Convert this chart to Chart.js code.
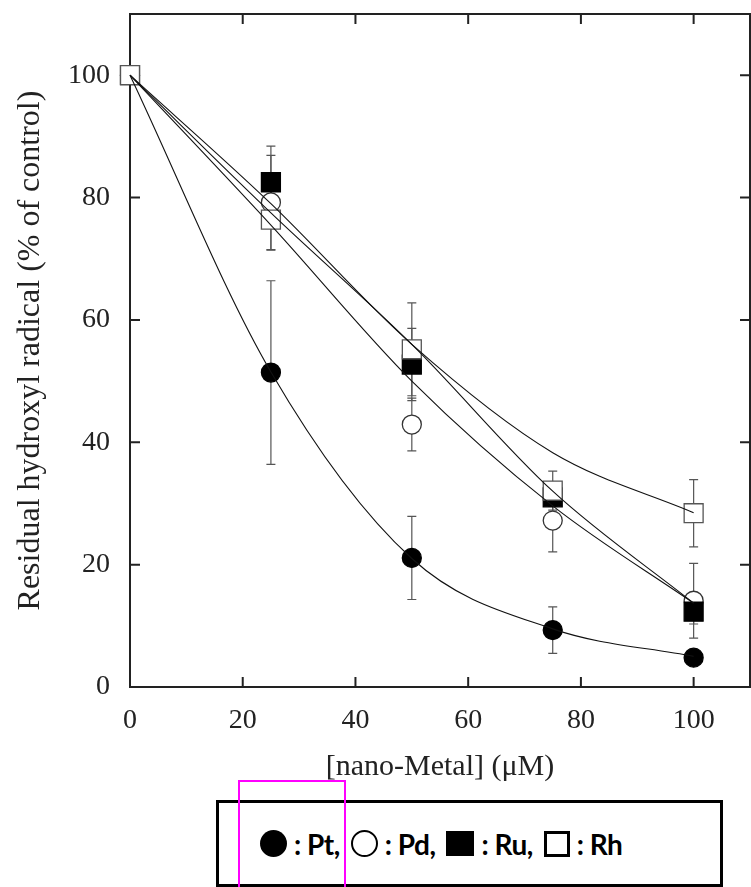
<!DOCTYPE html>
<html>
<head>
<meta charset="utf-8">
<title>Residual hydroxyl radical vs nano-Metal</title>
<script src="https://cdn.jsdelivr.net/npm/chart.js@4.4.0/dist/chart.umd.min.js"></script>
<style>
    html, body { margin: 0; padding: 0; background: #fff; overflow: hidden; }
    #wrap { position: relative; width: 751px; height: 887px; }
    #chart { position: absolute; left: 0; top: 0; }

    /* legend box under the plot */
    #legend {
        position: absolute; left: 216px; top: 800px;
        width: 507px; height: 87px;
        border: 3px solid #000; background: #fff;
        display: flex; align-items: center;
        padding-left: 41px; box-sizing: border-box;
        font-family: Lato, "Noto Sans", sans-serif; font-weight: 700;
        font-size: 28px; color: #000;
    }
    #legend .sym { display: inline-block; box-sizing: border-box; flex: none; }
    #legend .dot { width: 27px; height: 27px; border-radius: 50%; background: #000; }
    #legend .ring { width: 27px; height: 27px; border-radius: 50%; border: 2.5px solid #000; }
    #legend .box { width: 28px; height: 25px; background: #000; }
    #legend .hollow { width: 26px; height: 26px; border: 3px solid #000; }
    #legend .lbl { margin-left: 7px; margin-right: 11px; white-space: pre; letter-spacing: -0.5px; }
    #legend .lbl:last-child { margin-right: 0; }

    #frame {
        position: absolute; left: 238px; top: 780px;
        width: 108px; height: 140px;
        border: 2.5px solid #ff00ff; box-sizing: border-box;
    }
</style>
</head>
<body>
<div id="wrap">
    <canvas id="chart" width="751" height="887"></canvas>
    <div id="legend">
        <span class="sym dot"></span><span class="lbl">: Pt,</span>
        <span class="sym ring"></span><span class="lbl">: Pd,</span>
        <span class="sym box"></span><span class="lbl">: Ru,</span>
        <span class="sym hollow"></span><span class="lbl">: Rh</span>
    </div>
    <div id="frame"></div>
</div>
<script>
// --- DATA ---
const concentrations = [0, 25, 50, 75, 100];   // µM

const ptMean = [100, 51.4, 21.1, 9.3, 4.8];
const ptErr  = [0, 15.0, 6.8, 3.8, 1.0];
const pdMean = [100, 79.2, 42.9, 27.2, 14.1];
const pdErr  = [0, 7.7, 4.3, 5.1, 6.1];
const ruMean = [100, 82.5, 52.7, 31.0, 12.3];
const ruErr  = [0, 5.9, 5.9, 1.5, 2.0];
const rhMean = [100, 76.4, 55.2, 32.1, 28.4];
const rhErr  = [0, 5.0, 7.6, 3.2, 5.5];

// fitted curves as drawn in the figure, read at the same concentrations
const ptFit = [100, 51.5, 21.0, 9.5, 5.0];
const pdFit = [100, 75.5, 50.0, 29.6, 13.7];
const ruFit = [100, 77.5, 56.0, 32.0, 13.7];
const rhFit = [100, 79.0, 56.0, 38.3, 28.5];

const xTicks = [0, 20, 40, 60, 80, 100];
const yTicks = [0, 20, 40, 60, 80, 100];

const SERIF = "'Times New Roman', 'Liberation Serif', serif";
const AXIS_COLOR = '#222';
const toPoints = (ys) => concentrations.map((c, i) => ({ x: c, y: ys[i] }));

const errorSeries = [
    { mean: ptMean, err: ptErr },
    { mean: pdMean, err: pdErr },
    { mean: ruMean, err: ruErr },
    { mean: rhMean, err: rhErr }
];

// --- PLUGINS ---
// frame + inward ticks on all four sides
const framePlugin = {
    id: 'frame',
    beforeDatasetsDraw(chart) {
        const { ctx, chartArea: a, scales: { x, y } } = chart;
        const len = 10;
        ctx.save();
        ctx.strokeStyle = AXIS_COLOR;
        ctx.lineWidth = 2;
        ctx.strokeRect(a.left, a.top, a.right - a.left, a.bottom - a.top);
        ctx.beginPath();
        xTicks.forEach(v => {
            const px = x.getPixelForValue(v);
            ctx.moveTo(px, a.bottom); ctx.lineTo(px, a.bottom - len);
            ctx.moveTo(px, a.top); ctx.lineTo(px, a.top + len);
        });
        yTicks.forEach(v => {
            const py = y.getPixelForValue(v);
            ctx.moveTo(a.left, py); ctx.lineTo(a.left + len, py);
            ctx.moveTo(a.right, py); ctx.lineTo(a.right - len, py);
        });
        ctx.stroke();
        ctx.restore();
    }
};

// vertical error bars with caps, drawn under the markers
const errorBarPlugin = {
    id: 'errorBars',
    beforeDatasetsDraw(chart) {
        const { ctx, scales: { x, y } } = chart;
        const cap = 4.5;
        ctx.save();
        ctx.strokeStyle = '#555';
        ctx.lineWidth = 1.2;
        errorSeries.forEach(s => {
            concentrations.forEach((c, i) => {
                const e = s.err[i];
                if (!e) return;
                const px = x.getPixelForValue(c);
                const top = y.getPixelForValue(s.mean[i] + e);
                const bot = y.getPixelForValue(s.mean[i] - e);
                ctx.beginPath();
                ctx.moveTo(px, top); ctx.lineTo(px, bot);
                ctx.moveTo(px - cap, top); ctx.lineTo(px + cap, top);
                ctx.moveTo(px - cap, bot); ctx.lineTo(px + cap, bot);
                ctx.stroke();
            });
        });
        ctx.restore();
    }
};

// --- DATASETS ---
const markerSet = (label, ys, style, fill, edge, radius, order) => ({
    type: 'scatter', label, data: toPoints(ys), order, clip: false,
    showLine: false, pointStyle: style, pointRadius: radius, pointHoverRadius: radius,
    pointBackgroundColor: fill, pointBorderColor: edge, pointBorderWidth: 1.3
});

const curveSet = (label, ys) => ({
    type: 'line', label, data: toPoints(ys), order: 1, clip: false,
    borderColor: '#111', borderWidth: 1.1, pointRadius: 0, pointHoverRadius: 0,
    cubicInterpolationMode: 'monotone', fill: false
});

new Chart(document.getElementById('chart'), {
    data: {
        datasets: [
            curveSet('Pt fit', ptFit),
            curveSet('Pd fit', pdFit),
            curveSet('Ru fit', ruFit),
            curveSet('Rh fit', rhFit),
            markerSet('Pt', ptMean, 'circle', '#000', '#000', 9.5, 5),
            markerSet('Pd', pdMean, 'circle', '#fff', '#333', 9.5, 4),
            markerSet('Ru', ruMean, 'rect', '#000', '#000', 13.4, 3),
            markerSet('Rh', rhMean, 'rect', '#fff', '#555', 13.4, 2)
        ]
    },
    options: {
        responsive: false,
        animation: false,
        events: [],
        layout: { autoPadding: false, padding: { top: 14, right: 1, left: 0, bottom: 0 } },
        plugins: { legend: { display: false }, tooltip: { enabled: false } },
        scales: {
            x: {
                type: 'linear', position: 'bottom', min: 0, max: 110,
                afterBuildTicks: s => { s.ticks = xTicks.map(v => ({ value: v })); },
                afterFit: s => { s.height = 200; s.paddingLeft = 0; s.paddingRight = 0; },
                grid: { display: false, drawTicks: false },
                border: { display: false },
                ticks: { font: { family: SERIF, size: 28 }, color: AXIS_COLOR, padding: 17, maxRotation: 0 },
                title: {
                    display: true, text: '[nano-Metal] (\u03bcM)', color: AXIS_COLOR,
                    font: { family: SERIF, size: 30 }, padding: { top: 0, bottom: 102 }
                }
            },
            y: {
                type: 'linear', min: 0, max: 110,
                afterBuildTicks: s => { s.ticks = yTicks.map(v => ({ value: v })); },
                afterFit: s => { s.width = 130; s.paddingTop = 0; s.paddingBottom = 0; },
                grid: { display: false, drawTicks: false },
                border: { display: false },
                ticks: { font: { family: SERIF, size: 28 }, color: AXIS_COLOR, padding: 20 },
                title: {
                    display: true, text: 'Residual hydroxyl radical (% of control)', color: AXIS_COLOR,
                    font: { family: SERIF, size: 32 }, padding: { top: 11, bottom: 0 }
                }
            }
        }
    },
    plugins: [framePlugin, errorBarPlugin]
});
</script>
</body>
</html>
